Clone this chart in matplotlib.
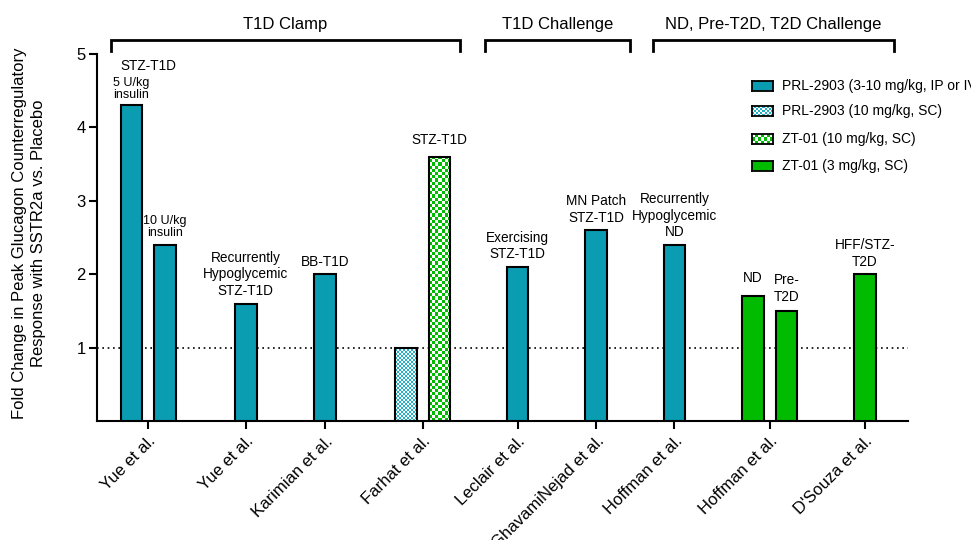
import numpy as np
import matplotlib
matplotlib.use("Agg")
import matplotlib.pyplot as plt
from matplotlib.colors import ListedColormap

plt.rcParams['font.family'] = ['Liberation Sans', 'DejaVu Sans']

# ---------------- data ----------------
categories = ["Yue et al.", "Yue et al.", "Karimian et al.", "Farhat et al.",
              "Leclair et al.", "GhavamiNejad et al.", "Hoffman et al.",
              "Hoffman et al.", "D'Souza et al."]
series_names = ["PRL-2903 (3-10 mg/kg, IP or IV)", "PRL-2903 (10 mg/kg, SC)",
                "ZT-01 (10 mg/kg, SC)", "ZT-01 (3 mg/kg, SC)"]
bar_category = [0, 0, 1, 2, 3, 3, 4, 5, 6, 7, 7, 8]
bar_series = [0, 0, 0, 0, 1, 2, 0, 0, 0, 3, 3, 3]
bar_values = [4.3, 2.4, 1.6, 2.0, 1.0, 3.6, 2.1, 2.6, 2.4, 1.7, 1.5, 2.0]
bar_notes = ["5 U/kg\ninsulin", "10 U/kg\ninsulin", "Recurrently\nHypoglycemic\nSTZ-T1D",
             "BB-T1D", "", "STZ-T1D", "Exercising\nSTZ-T1D", "MN Patch\nSTZ-T1D",
             "Recurrently\nHypoglycemic\nND", "ND", "Pre-\nT2D", "HFF/STZ-\nT2D"]
group_names = ["T1D Clamp", "T1D Challenge", "ND, Pre-T2D, T2D Challenge"]
reference_value = 1.0
yticks = [1, 2, 3, 4, 5]

# ---------------- layout / style ----------------
cat_pos = [0.64, 1.86, 2.85, 4.07, 5.26, 6.24, 7.22, 8.41, 9.60]
bar_side = [-1, 1, 0, 0, -1, 1, 0, 0, 0, -1, 1, 0]
note_gap = [3, 4, 4, 4, 0, 7, 4, 4, 4, 8, 5, 4]   # points between bar top and note
note_size = [9, 9, 9.8, 9.8, 9.8, 9.8, 9.8, 9.8, 9.8, 9.8, 9.8, 9.8]
note_ls = [1.0, 1.0, 1.25, 1.25, 1.25, 1.25, 1.25, 1.25, 1.25, 1.25, 1.25, 1.25]
pair_offset = 0.21
bar_width = 0.27
TEAL = "#0A9CB1"
LTEAL = "#22B2C8"
GREEN = "#00BB00"
series_color = [TEAL, LTEAL, GREEN, GREEN]
series_checker = [None, 2.0, 3.2, None]   # checker cell size in px

W, H = 971, 540
fig = plt.figure(figsize=(W / 100, H / 100), dpi=100)
ax_l, ax_r, ax_t, ax_b = 97, 908, 54, 421
ax = fig.add_axes([ax_l / W, 1 - ax_b / H, (ax_r - ax_l) / W, (ax_b - ax_t) / H])
XMAX = 10.14
ax.set_xlim(0, XMAX)
ax.set_ylim(0, 5)
px_x = (ax_r - ax_l) / XMAX
px_y = (ax_b - ax_t) / 5.0


def checker(n_rows, n_cols):
    return (np.add.outer(np.arange(n_rows), np.arange(n_cols)) % 2).astype(float)


for i in range(len(bar_values)):
    s = bar_series[i]
    x = cat_pos[bar_category[i]] + bar_side[i] * pair_offset
    v = bar_values[i]
    if series_checker[s] is None:
        ax.bar(x, v, width=bar_width, color=series_color[s], edgecolor="black",
               linewidth=1.5, zorder=3)
    else:
        ax.bar(x, v, width=bar_width, facecolor="none", edgecolor="black",
               linewidth=1.5, zorder=3)
        cell = series_checker[s]
        nc = max(1, int(round(bar_width * px_x / cell)))
        nr = max(1, int(round(v * px_y / cell)))
        cm = ListedColormap(["white", series_color[s]])
        ax.imshow(checker(nr, nc), cmap=cm, vmin=0, vmax=1,
                  extent=(x - bar_width / 2, x + bar_width / 2, 0, v),
                  origin="lower", aspect="auto", interpolation="nearest", zorder=2.5)
    note = bar_notes[i]
    if note:
        ax.annotate(note, xy=(x, v), xytext=(0, note_gap[i]),
                    textcoords="offset points", ha="center", va="bottom",
                    fontsize=note_size[i], linespacing=note_ls[i],
                    multialignment="left" if note.startswith("Pre") else "center",
                    zorder=4)

ax.set_xlim(0, XMAX)
ax.set_ylim(0, 5)

# extra label over the first Yue pair
ax.annotate("STZ-T1D", xy=(cat_pos[0], 4.3), xytext=(0, 23), textcoords="offset points",
            ha="center", va="bottom", fontsize=9.8)

# reference line
ax.axhline(reference_value, color="black", linestyle=(0, (1, 2.2)), linewidth=1.2, zorder=1)

# axes styling
for sp in ["top", "right"]:
    ax.spines[sp].set_visible(False)
for sp in ["left", "bottom"]:
    ax.spines[sp].set_linewidth(1.5)
ax.set_yticks(yticks)
ax.set_yticklabels([str(t) for t in yticks], fontsize=12)
ax.set_xticks(cat_pos)
ax.set_xticklabels(categories, rotation=45, ha="right", rotation_mode="anchor", fontsize=12)
ax.tick_params(axis="both", direction="out", width=1.5, length=6, color="black")
ax.tick_params(axis="y", pad=2)
ax.tick_params(axis="x", pad=3)

fig.text(29 / W, 1 - 233 / H,
         "Fold Change in Peak Glucagon Counterregulatory\nResponse with SSTR2a vs. Placebo",
         rotation=90, ha="center", va="center", fontsize=12, linespacing=1.35)

# group brackets (x extents in category units)
group_left = [0.175, 4.85, 6.95]
group_right = [4.54, 6.66, 9.96]
y_top = (ax_b - 40) / px_y
y_bot = (ax_b - 51) / px_y
for name, gl, gr in zip(group_names, group_left, group_right):
    ax.plot([gl, gl, gr, gr], [y_bot, y_top, y_top, y_bot], color="black",
            linewidth=2, clip_on=False, solid_joinstyle="miter")
    ax.text((gl + gr) / 2, (ax_b - 24) / px_y, name, ha="center", va="center",
            fontsize=12, clip_on=False)

# manual legend
leg_y = [86, 111, 139, 166]
for k, name in enumerate(series_names):
    yc = leg_y[k]
    lax = fig.add_axes([752 / W, 1 - (yc + 5) / H, 21 / W, 10 / H])
    if series_checker[k] is None:
        lax.set_facecolor(series_color[k])
    else:
        cell = series_checker[k]
        cm = ListedColormap(["white", series_color[k]])
        lax.imshow(checker(max(1, int(round(10 / cell))), max(1, int(round(21 / cell)))),
                   cmap=cm, vmin=0, vmax=1, aspect="auto", interpolation="nearest")
    lax.set_xticks([])
    lax.set_yticks([])
    for sp in lax.spines.values():
        sp.set_linewidth(1.3)
    fig.text(782 / W, 1 - yc / H, name, ha="left", va="center", fontsize=10)

fig.savefig("out.png", dpi=100)
